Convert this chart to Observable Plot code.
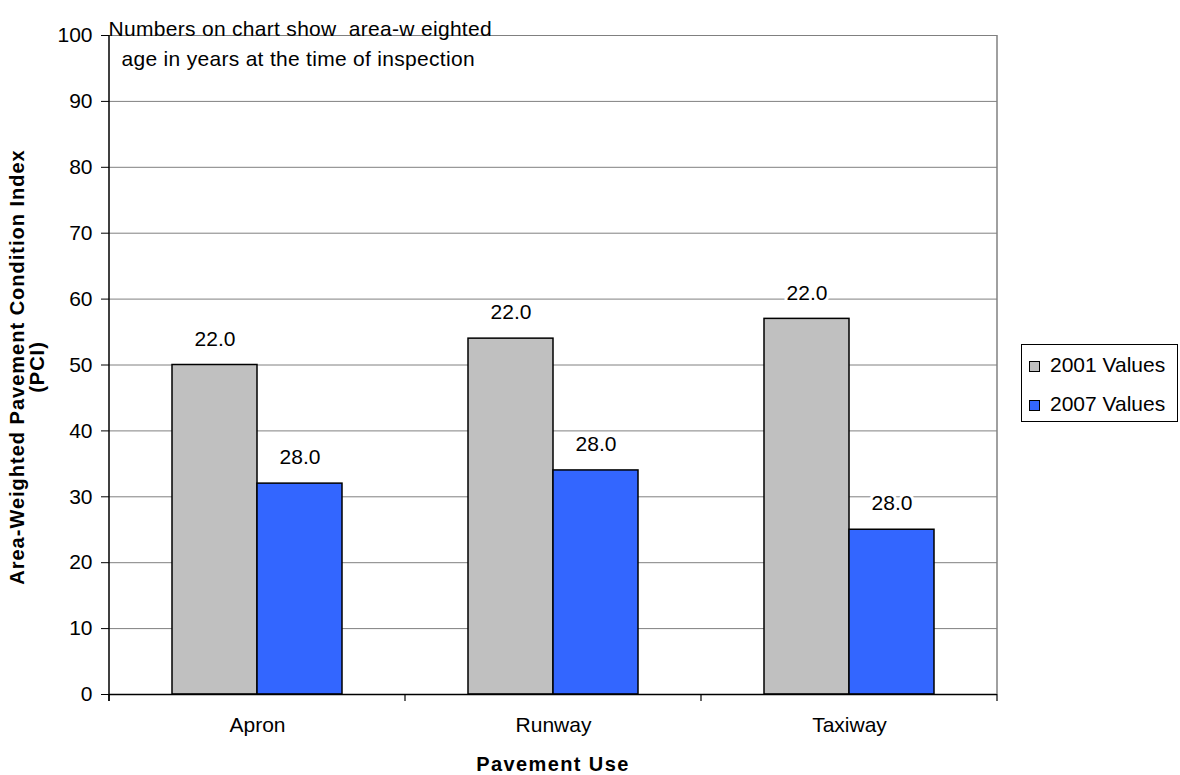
<!DOCTYPE html>
<html>
<head>
<meta charset="utf-8">
<script src="https://cdn.jsdelivr.net/npm/d3@7"></script>
<script src="https://cdn.jsdelivr.net/npm/@observablehq/plot@0.6"></script>
<style>
  body { margin: 0; background: white; font-family: "Liberation Sans", Arial, sans-serif; }
  #wrap { position: relative; width: 1180px; height: 775px; overflow: hidden; }
  #legend { position: absolute; left: 1021px; top: 344px; width: 155px; height: 76px; border: 1px solid #000; background: white; font-size: 21px; }
  .item { position: absolute; left: 7px; height: 24px; line-height: 24px; white-space: nowrap; }
  .sw { display: inline-block; width: 9px; height: 9px; border: 1px solid #000; margin-right: 10px; vertical-align: 0px; }
  #ytitle { position: absolute; left: 27px; top: 367px; transform: translate(-50%, -50%) rotate(-90deg); font-weight: bold; font-size: 20px; line-height: 20px; letter-spacing: 1px; text-align: center; white-space: nowrap; }
  #xtitle { position: absolute; left: 108px; width: 890px; top: 752px; text-align: center; font-weight: bold; font-size: 20px; line-height: 24px; letter-spacing: 1.4px; }
  .note text { letter-spacing: 0.3px; }
</style>
</head>
<body>
<div id="wrap"></div>
<script>
const uses = ["Apron", "Runway", "Taxiway"];
const seriesNames = ["2001 Values", "2007 Values"];
const pci2001 = [50, 54, 57];
const pci2007 = [32, 34, 25];
const age2001 = [22.0, 22.0, 22.0];
const age2007 = [28.0, 28.0, 28.0];
const yTicks = [0, 10, 20, 30, 40, 50, 60, 70, 80, 90, 100];
const seriesColors = ["#C0C0C0", "#3366FF"];
const noteLines = ["Numbers on chart show  area-w eighted", "age in years at the time of inspection"];
const yTitleLines = ["Area-Weighted Pavement Condition Index", "(PCI)"];
const xTitle = "Pavement Use";

const data = uses.flatMap((u, i) => [
  {use: u, series: seriesNames[0], pci: pci2001[i], age: age2001[i]},
  {use: u, series: seriesNames[1], pci: pci2007[i], age: age2007[i]}
]);
const noteData = [{use: uses[0], t: noteLines[0], k: 0}, {use: uses[0], t: noteLines[1], k: 1}];

const chart = Plot.plot({
  width: 1180,
  height: 775,
  marginLeft: 108,
  marginRight: 182,
  marginTop: 35,
  marginBottom: 81,
  style: {fontFamily: "'Liberation Sans', Arial, sans-serif", fontSize: "21px", color: "black", background: "white", overflow: "visible"},
  fx: {domain: uses, padding: 0, label: null, axis: "bottom", tickSize: 0, tickPadding: 23},
  x: {domain: seriesNames, paddingInner: 0, paddingOuter: 0.725, axis: null},
  y: {domain: [0, 100], ticks: yTicks, tickSize: 8, tickPadding: 9, label: null},
  color: {domain: seriesNames, range: seriesColors},
  marks: [
    Plot.ruleY(yTicks.filter(d => d > 0), {stroke: "#808080", strokeWidth: 1, strokeOpacity: 1}),
    Plot.barY(data, {fx: "use", x: "series", y: "pci", fill: "series", stroke: "black", strokeWidth: 1.5}),
    Plot.ruleY([0], {stroke: "black", strokeWidth: 1.5}),
    Plot.text(data, {fx: "use", x: "series", y: "pci", text: d => d.age.toFixed(1), dy: -26, fill: "black", stroke: "white", strokeWidth: 6, paintOrder: "stroke", fontSize: 21}),
    Plot.text(noteData.filter(d => d.k === 0), {fx: "use", text: "t", frameAnchor: "top-left", textAnchor: "start", dx: -1, dy: -14, fontSize: 21, className: "note"}),
    Plot.text(noteData.filter(d => d.k === 1), {fx: "use", text: "t", frameAnchor: "top-left", textAnchor: "start", dx: 12, dy: 16, fontSize: 21, className: "note"})
  ]
});

document.getElementById("wrap").appendChild(chart);

// axis lines & category boundary ticks from Plot's scales
const fx = chart.scale("fx");
const y = chart.scale("y");
const svg = d3.select(chart.tagName.toLowerCase() === "svg" ? chart : chart.querySelector("svg"));
svg.selectAll(".note text, text.note").style("letter-spacing", "0.3px");
const left = fx.apply(uses[0]);
const right = fx.apply(uses[uses.length - 1]) + fx.bandwidth;
const y0 = y.apply(0), y100 = y.apply(100);
const g = svg.append("g");
g.append("line").attr("x1", right).attr("x2", right).attr("y1", y100).attr("y2", y0).attr("stroke", "#808080").attr("stroke-width", 1.5);
g.append("line").attr("x1", left).attr("x2", left).attr("y1", y100).attr("y2", y0 + 7).attr("stroke", "black").attr("stroke-width", 1.5);
uses.map(u => fx.apply(u)).concat([right]).forEach(x => {
  g.append("line").attr("x1", x).attr("x2", x).attr("y1", y0).attr("y2", y0 + 7).attr("stroke", "black").attr("stroke-width", 1.2);
});

// legend
const legend = document.createElement("div");
legend.id = "legend";
seriesNames.forEach((s, i) => {
  const it = document.createElement("div");
  it.className = "item";
  it.style.top = (8 + i * 38.5) + "px";
  it.innerHTML = `<span class="sw" style="background:${seriesColors[i]}"></span>${s}`;
  legend.appendChild(it);
});
document.getElementById("wrap").appendChild(legend);

// axis titles
const yt = document.createElement("div");
yt.id = "ytitle";
yt.innerHTML = yTitleLines.join("<br>");
document.getElementById("wrap").appendChild(yt);
const xt = document.createElement("div");
xt.id = "xtitle";
xt.textContent = xTitle;
document.getElementById("wrap").appendChild(xt);
</script>
</body>
</html>
